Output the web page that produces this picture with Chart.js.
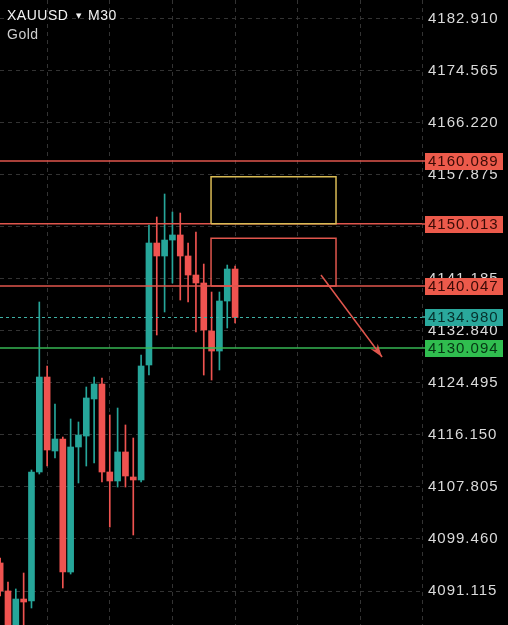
<!DOCTYPE html>
<html>
<head>
<meta charset="utf-8">
<script src="https://cdn.jsdelivr.net/npm/chart.js@4.4.1/dist/chart.umd.min.js"></script>
<style>
html, body { margin: 0; padding: 0; background: #000; }
canvas { display: block; }
</style>
</head>
<body>
<canvas id="chartGold" width="508" height="625"></canvas>
<script>
// XAUUSD M30 candles (index 0 = leftmost, partly cut)
const candleOpen  = [4095.61, 4091.12, 4084.00, 4089.83, 4089.51, 4110.20, 4125.43, 4113.57, 4115.49, 4094.16,
                     4114.21, 4115.97, 4121.91, 4124.31, 4110.20, 4108.76, 4113.41, 4109.40, 4108.92, 4127.36,
                     4146.92, 4144.84, 4147.40, 4148.21, 4144.84, 4141.79, 4140.51, 4132.81, 4129.60, 4137.62,
                     4142.75];
const candleHigh  = [4096.41, 4092.56, 4091.44, 4094.00, 4110.52, 4137.46, 4127.20, 4121.10, 4115.81, 4118.70,
                     4118.22, 4123.83, 4125.43, 4125.27, 4119.34, 4120.46, 4117.74, 4115.65, 4128.96, 4149.81,
                     4151.09, 4154.78, 4151.89, 4151.73, 4146.92, 4148.69, 4143.55, 4139.06, 4139.06, 4143.39,
                     4143.23];
const candleLow   = [4090.32, 4083.26, 4082.46, 4084.06, 4088.39, 4109.88, 4111.16, 4112.45, 4091.60, 4093.84,
                     4108.44, 4111.16, 4111.64, 4108.60, 4101.38, 4107.79, 4107.79, 4100.10, 4108.60, 4125.75,
                     4132.17, 4135.86, 4140.51, 4137.78, 4137.46, 4132.65, 4125.75, 4124.95, 4126.56, 4133.29,
                     4134.09];
const candleClose = [4091.12, 4084.54, 4089.83, 4089.35, 4110.20, 4125.43, 4113.73, 4115.49, 4094.16, 4114.21,
                     4116.13, 4122.07, 4124.31, 4110.20, 4108.76, 4113.41, 4109.56, 4108.92, 4127.20, 4146.92,
                     4144.84, 4147.40, 4148.21, 4144.84, 4141.79, 4140.51, 4132.97, 4129.60, 4137.62, 4142.75,
                     4134.98];

// price axis ticks
const priceTicks = [4091.115, 4099.460, 4107.805, 4116.150, 4124.495, 4132.840,
                    4141.185, 4149.530, 4157.875, 4166.220, 4174.565, 4182.910];
// time grid (candle index)
const timeGrid = [6, 14, 22, 30, 38, 46];

// drawn levels
const levelPrices = [4160.089, 4150.013, 4140.047, 4134.980, 4130.094];

// drawn objects: [xFrom, xTo, priceBottom, priceTop]
const yellowZone = [26.93, 42.89, 4150.013, 4157.56];
const redZone    = [26.93, 42.89, 4140.047, 4147.68];
const arrowFrom  = [40.97, 4141.79];
const arrowTo    = [48.77, 4128.64];

const xMin = -0.02, xMax = 53.87;
const yMin = 4085.663, yMax = 4185.893;

const UP = '#26a69a';
const DOWN = '#ef5350';
const LINE_RED = '#e0564d';
const levelLine = [LINE_RED, LINE_RED, LINE_RED, '#3fb1a5', '#36b653'];
const levelBox  = ['#ec5a4b', '#ec5a4b', '#ec5a4b', '#2aa89c', '#30bd4f'];
const levelInk  = ['#3a0b06', '#3a0b06', '#3a0b06', '#06302c', '#063514'];
const GRID = '#333333';

const ctxGold = document.getElementById('chartGold').getContext('2d');

const candleColors = candleOpen.map((o, i) => candleClose[i] >= o ? UP : DOWN);
const bodies = candleOpen.map((o, i) => ({ x: i, y: [o, candleClose[i]] }));
const wicks = candleOpen.map((o, i) => ({ x: i, y: [candleLow[i], candleHigh[i]] }));

const flat = v => [{ x: xMin, y: v }, { x: xMax, y: v }];
const box = z => [
    { x: z[0], y: z[2] }, { x: z[0], y: z[3] },
    { x: z[1], y: z[3] }, { x: z[1], y: z[2] }, { x: z[0], y: z[2] }
];
const lineSet = (data, color, extra) => Object.assign({
    type: 'line', data: data, borderColor: color, borderWidth: 1.5,
    pointRadius: 0, fill: false, tension: 0, order: 0
}, extra || {});

const overlay = {
    id: 'overlay',
    beforeDraw(chart) {
        chart.ctx.letterSpacing = '1px';
    },
    afterDraw(chart) {
        const ctx = chart.ctx;
        const sx = chart.scales.x, sy = chart.scales.y;
        ctx.save();

        // arrow head
        const x1 = sx.getPixelForValue(arrowFrom[0]), y1 = sy.getPixelForValue(arrowFrom[1]);
        const x2 = sx.getPixelForValue(arrowTo[0]), y2 = sy.getPixelForValue(arrowTo[1]);
        const ang = Math.atan2(y2 - y1, x2 - x1);
        ctx.fillStyle = LINE_RED;
        ctx.beginPath();
        ctx.moveTo(x2, y2);
        ctx.lineTo(x2 - 14 * Math.cos(ang - 0.32), y2 - 14 * Math.sin(ang - 0.32));
        ctx.lineTo(x2 - 9 * Math.cos(ang), y2 - 9 * Math.sin(ang));
        ctx.lineTo(x2 - 14 * Math.cos(ang + 0.32), y2 - 14 * Math.sin(ang + 0.32));
        ctx.closePath();
        ctx.fill();

        // level tags on the price axis
        const left = chart.chartArea.right;
        ctx.font = '15px "Liberation Sans", Arial, sans-serif';
        ctx.letterSpacing = '1px';
        ctx.textBaseline = 'middle';
        ctx.textAlign = 'left';
        levelPrices.forEach((p, i) => {
            const py = Math.round(sy.getPixelForValue(p));
            ctx.fillStyle = levelLine[i];
            ctx.fillRect(left, py - 0.75, 3, 1.5);
            ctx.fillStyle = levelBox[i];
            ctx.fillRect(left + 3, py - 8, 78, 17);
            ctx.fillStyle = levelInk[i];
            ctx.fillText(p.toFixed(3), left + 6, py + 1);
        });

        // symbol header
        ctx.textBaseline = 'alphabetic';
        ctx.letterSpacing = '0.5px';
        ctx.font = '14px "Liberation Sans", Arial, sans-serif';
        ctx.fillStyle = '#f2f2f2';
        ctx.fillText('XAUUSD', 7, 20);
        ctx.fillText('M30', 88, 20);
        ctx.font = '7px "DejaVu Sans", sans-serif';
        ctx.fillText('▼', 76, 18);
        ctx.font = '14px "Liberation Sans", Arial, sans-serif';
        ctx.fillStyle = '#cfcfcf';
        ctx.fillText('Gold', 7, 39);
        ctx.restore();
    }
};

const datasets = [
    {
        type: 'bar', data: wicks, backgroundColor: candleColors,
        barThickness: 1, grouped: false, order: 3, borderWidth: 0
    },
    {
        type: 'bar', data: bodies, backgroundColor: candleColors,
        barThickness: 6, grouped: false, order: 2, borderWidth: 0, minBarLength: 2
    },
    lineSet(box(yellowZone), '#d9bb55'),
    lineSet(box(redZone), LINE_RED),
    lineSet([{ x: arrowFrom[0], y: arrowFrom[1] }, { x: arrowTo[0], y: arrowTo[1] }], LINE_RED)
];
levelPrices.forEach((p, i) => {
    datasets.push(lineSet(flat(p), levelLine[i], i === 3 ? { borderDash: [3, 3], borderWidth: 1.2 } : {}));
});

const chartGold = new Chart(ctxGold, {
    type: 'bar',
    data: { datasets: datasets },
    options: {
        responsive: false,
        animation: false,
        events: [],
        layout: { padding: 0 },
        plugins: { legend: { display: false }, tooltip: { enabled: false } },
        scales: {
            x: {
                type: 'linear',
                min: xMin,
                max: xMax,
                offset: false,
                grid: { color: GRID, offset: false, drawTicks: false },
                border: { display: false, dash: [4, 4] },
                ticks: { display: false },
                // last grid line doubles as the dashed price-axis separator
                afterBuildTicks: s => { s.ticks = timeGrid.concat([xMax]).map(v => ({ value: v })); },
                afterFit: s => { s.height = 0; s.paddingLeft = 0; s.paddingRight = 0; }
            },
            y: {
                type: 'linear',
                position: 'right',
                min: yMin,
                max: yMax,
                grid: { color: GRID, drawTicks: false },
                border: { display: false, dash: [4, 4] },
                ticks: {
                    padding: 6,
                    color: '#dadada',
                    font: { family: '"Liberation Sans", Arial, sans-serif', size: 15 },
                    callback: v => v.toFixed(3)
                },
                afterBuildTicks: s => { s.ticks = priceTicks.map(v => ({ value: v })); },
                afterFit: s => { s.width = 86; s.paddingTop = 0; s.paddingBottom = 0; }
            }
        }
    },
    plugins: [overlay]
});
</script>
</body>
</html>
